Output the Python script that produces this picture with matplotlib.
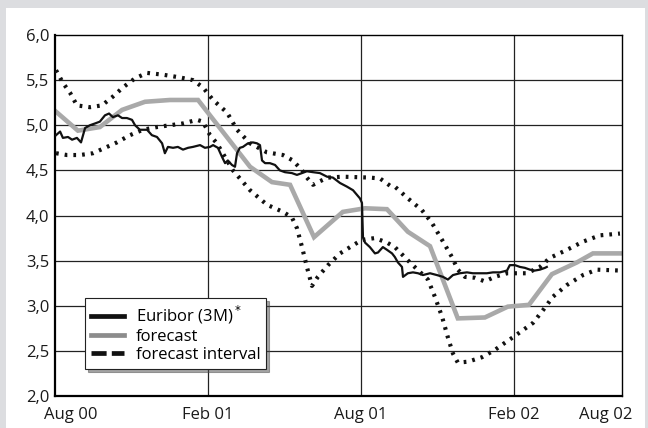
import matplotlib.pyplot as plt
from matplotlib.lines import Line2D
from matplotlib.patches import Rectangle

plt.rcParams['font.family'] = ['Open Sans', 'DejaVu Sans']

# months after Aug 2000
eur_x = [0.04, 0.20, 0.31, 0.51, 0.67, 0.86, 1.02, 1.10, 1.18, 1.37, 1.57, 1.76, 1.96, 2.12, 2.27, 2.47,
         2.63, 2.82, 3.02, 3.14, 3.33, 3.61, 3.80, 4.00, 4.20, 4.31, 4.43, 4.63, 4.82, 5.02, 5.22, 5.41,
         5.69, 5.88, 6.08, 6.20, 6.39, 6.55, 6.67, 6.78, 6.94, 7.06, 7.14, 7.25, 7.37, 7.57, 7.76, 7.92,
         8.04, 8.12, 8.24, 8.43, 8.63, 8.82, 9.02, 9.29, 9.49, 9.69, 9.88, 10.12, 10.39, 10.67, 10.90,
         11.18, 11.45, 11.69, 11.84, 11.96, 12.04, 12.08, 12.16, 12.35, 12.55, 12.67, 12.86, 13.02, 13.22,
         13.33, 13.45, 13.61, 13.65, 13.84, 14.04, 14.24, 14.43, 14.71, 14.98, 15.22, 15.41, 15.61, 15.88,
         16.16, 16.39, 16.67, 16.94, 17.18, 17.45, 17.73, 17.84, 18.04, 18.24, 18.43, 18.63, 18.82, 19.02,
         19.22, 19.29]
eur_y = [4.89, 4.93, 4.86, 4.87, 4.84, 4.86, 4.81, 4.89, 4.97, 5.00, 5.02, 5.04, 5.11, 5.13, 5.09, 5.11,
         5.08, 5.08, 5.06, 5.00, 4.95, 4.95, 4.89, 4.87, 4.80, 4.69, 4.76, 4.75, 4.76, 4.73, 4.75, 4.76,
         4.78, 4.75, 4.76, 4.78, 4.75, 4.65, 4.58, 4.61, 4.56, 4.54, 4.69, 4.75, 4.76, 4.80, 4.81, 4.80,
         4.78, 4.61, 4.58, 4.58, 4.56, 4.50, 4.48, 4.47, 4.45, 4.47, 4.49, 4.48, 4.47, 4.43, 4.42,
         4.36, 4.32, 4.28, 4.23, 4.19, 4.14, 3.76, 3.70, 3.65, 3.58, 3.59, 3.65, 3.62, 3.58,
         3.54, 3.48, 3.43, 3.32, 3.36, 3.37, 3.36, 3.34, 3.36, 3.34, 3.32, 3.29, 3.34, 3.36,
         3.37, 3.36, 3.36, 3.36, 3.37, 3.37, 3.39, 3.45, 3.45, 3.43, 3.42, 3.40, 3.39, 3.40,
         3.42, 3.43]

fc_x = [0, 0.9, 1.76, 2.63, 3.53, 4.51, 5.61, 7.65, 8.51, 9.22, 10.16, 11.29, 12.16, 13.02, 13.84,
        14.71, 15.8, 16.86, 17.76, 18.59, 19.49, 20.47, 21.1, 22.24]
fc_y = [5.16, 4.94, 4.98, 5.17, 5.26, 5.28, 5.28, 4.54, 4.37, 4.34, 3.76, 4.04, 4.08, 4.07, 3.82,
        3.66, 2.86, 2.87, 2.99, 3.01, 3.35, 3.48, 3.58, 3.58]

up_x = [0.04, 0.31, 0.59, 0.86, 1.37, 1.84, 2.24, 2.67, 3.14, 3.61, 4.24, 4.90, 5.41, 5.80, 6.20, 6.75,
        7.14, 7.65, 8.31, 8.94, 9.33, 9.69, 9.88, 10.12, 10.39, 10.71, 11.29, 12.35, 12.75, 13.14, 13.33,
        13.84, 14.39, 14.78, 15.18, 15.57, 15.80, 16.08, 16.47, 16.86, 17.25, 17.73, 18.51, 19.02, 19.41,
        20.08, 20.71, 21.37, 22.16]
up_y = [5.61, 5.47, 5.36, 5.22, 5.20, 5.22, 5.31, 5.42, 5.52, 5.58, 5.56, 5.53, 5.50, 5.42, 5.28, 5.14,
        4.95, 4.80, 4.70, 4.67, 4.61, 4.50, 4.42, 4.34, 4.38, 4.42, 4.43, 4.42, 4.41, 4.33, 4.32,
        4.19, 4.06, 3.92, 3.73, 3.54, 3.40, 3.32, 3.31, 3.27, 3.32, 3.36, 3.36, 3.43, 3.53,
        3.62, 3.71, 3.78, 3.80]

lo_x = [0.04, 0.47, 0.98, 1.49, 1.96, 2.43, 2.94, 3.45, 4.00, 4.51, 5.02, 5.57, 5.80, 6.08, 6.35, 6.98,
        7.65, 8.31, 8.94, 9.29, 9.49, 9.69, 9.88, 10.08, 10.31, 10.71, 11.18, 11.69, 12.04, 12.55, 13.02,
        13.33, 13.92, 14.63, 14.90, 15.18, 15.41, 15.61, 15.80, 16.20, 16.75, 17.25, 17.65, 17.96, 18.75,
        19.14, 19.53, 20.08, 20.71, 21.25, 22.16]
lo_y = [4.69, 4.67, 4.67, 4.69, 4.75, 4.81, 4.89, 4.95, 4.98, 5.00, 5.02, 5.06, 5.04, 4.89, 4.80, 4.50,
        4.28, 4.12, 4.04, 3.98, 3.86, 3.65, 3.43, 3.22, 3.32, 3.45, 3.58, 3.67, 3.73, 3.75, 3.70,
        3.65, 3.48, 3.29, 3.10, 2.88, 2.65, 2.47, 2.37, 2.38, 2.43, 2.51, 2.59, 2.65, 2.81,
        2.95, 3.10, 3.23, 3.34, 3.40, 3.39]

tick_pos = [0.63, 6, 12, 18, 21.6]
tick_lab = ['Aug 00', 'Feb 01', 'Aug 01', 'Feb 02', 'Aug 02']
y_ticks = [2.0, 2.5, 3.0, 3.5, 4.0, 4.5, 5.0, 5.5, 6.0]

fig = plt.figure(figsize=(6.48, 4.28), dpi=100, facecolor='#dcdde0')
fig.patches.append(Rectangle((6 / 648, 0), 639 / 648, 420 / 428, transform=fig.transFigure,
                             facecolor='white', edgecolor='none', zorder=-5))
ax = fig.add_axes([55 / 648, 32 / 428, 567 / 648, 361 / 428])

for yv in y_ticks[1:-1]:
    ax.axhline(yv, color='#222222', lw=0.9, zorder=1)
for xv in [6, 12, 18]:
    ax.axvline(xv, color='#222222', lw=0.9, zorder=1)

dots = (0, (0.65, 1.45))
ax.plot(up_x, up_y, color='#111111', lw=3.0, linestyle=dots, zorder=3)
ax.plot(lo_x, lo_y, color='#111111', lw=3.0, linestyle=dots, zorder=3)
ax.plot(fc_x, fc_y, color='#a9a9a9', lw=3.3, solid_joinstyle='miter', zorder=2)
ax.plot(eur_x, eur_y, color='#111111', lw=1.6, zorder=4)

ax.set_xlim(0, 22.24)
ax.set_ylim(2.0, 6.0)
ax.set_yticks(y_ticks, [f'{v:.1f}'.replace('.', ',') for v in y_ticks])
ax.set_xticks(tick_pos, tick_lab)
ax.tick_params(length=0, labelsize=12, colors='#1a1a1a')
ax.tick_params(axis='y', pad=4)
ax.tick_params(axis='x', pad=8)
for s in ['left', 'bottom']:
    ax.spines[s].set_linewidth(1.6)
for s in ['top', 'right']:
    ax.spines[s].set_linewidth(1.0)

handles = [Line2D([], [], color='#111111', lw=3.4),
           Line2D([], [], color='#8c8c8c', lw=3.4),
           Line2D([], [], color='#111111', lw=3.4, linestyle=(0, (3.2, 1.1)))]
leg = ax.legend(handles, [r'Euribor (3M)$^*$', 'forecast', 'forecast interval'],
                loc='lower left', bbox_to_anchor=(0.053, 0.075), borderaxespad=0,
                fontsize=12, fancybox=False, shadow=True, edgecolor='#222222',
                handlelength=2.0, handletextpad=0.7, labelspacing=0.15,
                borderpad=0.35, framealpha=1)
leg.get_frame().set_linewidth(0.8)

fig.savefig('out.png', dpi=100, facecolor=fig.get_facecolor())
